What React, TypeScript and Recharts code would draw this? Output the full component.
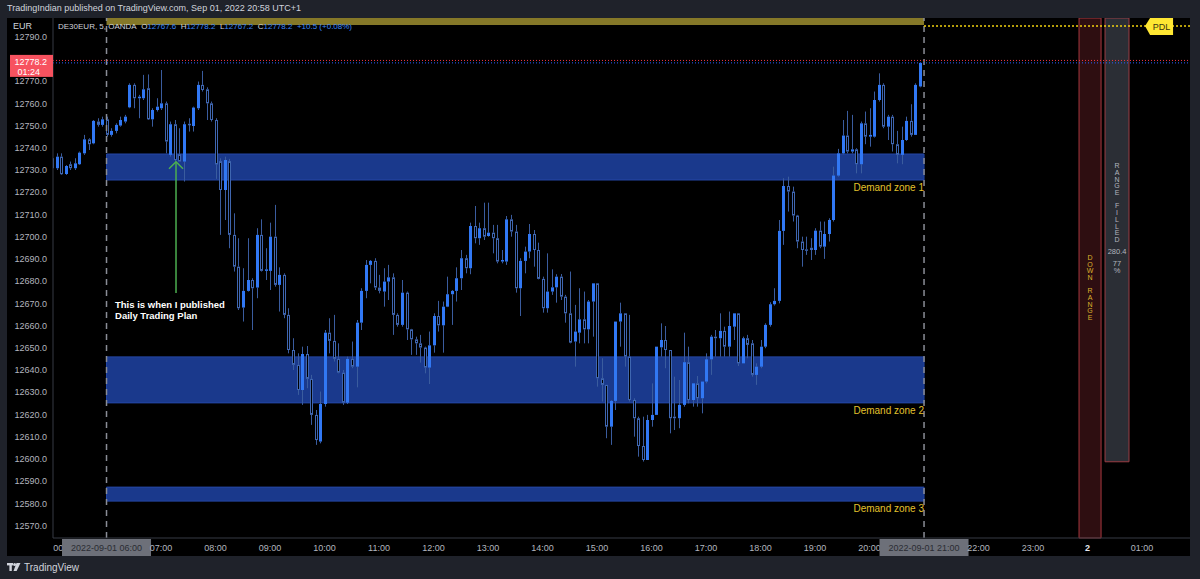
import React from "react";
import {
  ComposedChart,
  Bar,
  XAxis,
  YAxis,
  ReferenceArea,
  ReferenceLine,
  ReferenceDot,
} from "recharts";

const FONT = '"Liberation Sans", Arial, sans-serif';

// 5 minute candles, DE30EUR, 2022-09-01 05:00 -> 20:55
const START_HOUR = 5;
const STEP_MIN = 5;

const OPEN = [
  12735.3, 12730.8, 12736.0, 12728.2, 12732.6, 12730.8, 12732.6, 12737.5, 12743.8, 12742.0, 12751.8, 12750.3,
  12752.8, 12745.8, 12747.6, 12750.0, 12751.8, 12758.2, 12768.3, 12762.3, 12762.3, 12766.8, 12752.8, 12757.0,
  12757.8, 12760.0, 12736.8, 12750.6, 12737.1, 12733.8, 12750.8, 12749.8, 12757.8, 12768.3, 12766.3, 12760.0,
  12752.5, 12734.0, 12721.0, 12734.0, 12700.8, 12686.5, 12668.1, 12675.6, 12680.5, 12677.1, 12700.8, 12684.6,
  12684.6, 12700.0, 12678.3, 12682.8, 12664.8, 12649.0, 12642.3, 12631.0, 12647.2, 12636.0, 12619.8, 12607.8,
  12624.7, 12656.8, 12653.1, 12645.0, 12638.8, 12625.3, 12645.0, 12641.5, 12661.3, 12675.6, 12687.3, 12689.1,
  12677.1, 12675.3, 12679.8, 12681.7, 12664.8, 12660.3, 12674.8, 12658.3, 12653.8, 12652.0, 12650.1, 12641.1,
  12651.1, 12664.3, 12660.1, 12668.5, 12674.1, 12675.6, 12681.3, 12690.3, 12685.8, 12704.8, 12699.3, 12703.8,
  12700.3, 12701.8, 12699.3, 12688.8, 12688.8, 12707.8, 12702.3, 12676.8, 12689.1, 12693.3, 12701.2, 12694.0,
  12681.0, 12667.8, 12675.3, 12677.2, 12682.0, 12673.0, 12665.5, 12652.8, 12656.8, 12662.8, 12658.3, 12670.8,
  12679.0, 12636.3, 12633.3, 12614.5, 12626.1, 12661.8, 12665.5, 12646.0, 12626.5, 12618.3, 12605.8, 12599.5,
  12617.5, 12619.8, 12650.2, 12653.5, 12649.0, 12619.0, 12618.3, 12624.3, 12643.5, 12626.5, 12634.0, 12627.3,
  12634.8, 12644.8, 12655.0, 12654.3, 12657.6, 12650.5, 12659.5, 12665.5, 12643.0, 12654.3, 12652.0, 12637.8,
  12641.5, 12650.5, 12660.3, 12669.6, 12671.1, 12702.6, 12722.8, 12720.3, 12709.5, 12697.8, 12694.3, 12695.0,
  12694.0, 12702.7, 12695.5, 12701.2, 12707.5, 12727.5, 12737.5, 12745.5, 12738.3, 12739.3, 12732.6, 12751.0,
  12745.0, 12745.0, 12761.5, 12768.3, 12749.5, 12754.0, 12741.6, 12736.8, 12743.5, 12752.1, 12745.8, 12767.6,
];

const HIGH = [
  12736.8, 12737.5, 12737.5, 12732.2, 12733.8, 12735.3, 12738.3, 12745.8, 12744.3, 12752.5, 12753.3, 12754.0,
  12754.0, 12748.8, 12751.0, 12754.0, 12754.8, 12769.0, 12769.0, 12763.8, 12772.8, 12773.0, 12757.8, 12762.3,
  12775.0, 12760.8, 12751.8, 12752.5, 12748.8, 12751.8, 12753.3, 12758.5, 12769.8, 12774.6, 12767.2, 12760.8,
  12753.3, 12735.3, 12736.0, 12735.0, 12710.5, 12699.3, 12685.8, 12699.3, 12681.3, 12703.8, 12707.8, 12694.8,
  12706.3, 12714.3, 12686.2, 12683.5, 12667.8, 12654.3, 12647.5, 12650.5, 12650.8, 12637.8, 12622.0, 12630.3,
  12658.0, 12663.3, 12664.8, 12652.0, 12640.0, 12646.0, 12652.8, 12662.5, 12676.8, 12689.5, 12689.5, 12690.3,
  12682.8, 12685.8, 12687.3, 12683.5, 12665.5, 12680.5, 12675.3, 12658.5, 12655.0, 12655.8, 12650.5, 12657.3,
  12665.5, 12671.1, 12670.8, 12682.0, 12676.0, 12686.2, 12694.0, 12691.8, 12706.3, 12713.8, 12706.3, 12715.3,
  12715.3, 12705.3, 12705.3, 12694.0, 12709.3, 12709.8, 12705.3, 12690.3, 12695.5, 12705.7, 12703.0, 12697.3,
  12682.0, 12692.5, 12685.3, 12683.1, 12683.2, 12673.8, 12684.3, 12669.3, 12676.8, 12675.3, 12671.5, 12679.0,
  12679.0, 12645.3, 12633.3, 12626.5, 12661.8, 12670.3, 12665.5, 12664.8, 12627.3, 12619.0, 12619.0, 12619.8,
  12634.0, 12650.5, 12661.0, 12659.8, 12649.0, 12637.0, 12635.5, 12656.8, 12650.5, 12634.0, 12637.3, 12634.8,
  12647.5, 12655.8, 12658.0, 12665.5, 12659.5, 12666.3, 12665.5, 12665.5, 12655.0, 12655.8, 12653.5, 12643.0,
  12653.5, 12661.0, 12670.5, 12676.8, 12707.5, 12726.3, 12727.0, 12722.5, 12709.8, 12700.0, 12700.0, 12699.3,
  12703.8, 12706.8, 12706.8, 12708.3, 12731.5, 12739.5, 12752.5, 12756.6, 12754.8, 12739.8, 12751.8, 12756.3,
  12757.8, 12765.3, 12773.5, 12769.0, 12754.8, 12754.8, 12747.6, 12749.5, 12754.0, 12759.6, 12769.0, 12778.2,
];

const LOW = [
  12728.1, 12730.0, 12727.8, 12727.8, 12730.0, 12730.0, 12732.3, 12736.8, 12739.0, 12741.6, 12749.5, 12749.5,
  12745.0, 12745.0, 12746.5, 12749.5, 12751.0, 12757.8, 12757.8, 12753.3, 12761.5, 12752.5, 12749.5, 12756.3,
  12757.0, 12737.5, 12736.0, 12733.8, 12733.8, 12724.8, 12747.3, 12747.3, 12757.0, 12765.3, 12752.5, 12751.8,
  12726.0, 12700.8, 12707.5, 12694.8, 12684.3, 12667.0, 12661.8, 12675.3, 12658.0, 12672.3, 12684.3, 12680.5,
  12676.0, 12677.5, 12666.3, 12663.3, 12647.5, 12640.0, 12628.8, 12624.3, 12631.8, 12615.3, 12606.3, 12607.0,
  12623.5, 12647.5, 12643.8, 12638.5, 12624.3, 12624.7, 12640.8, 12632.2, 12658.0, 12672.3, 12679.0, 12676.0,
  12674.5, 12668.5, 12671.5, 12655.8, 12659.5, 12659.5, 12653.5, 12646.8, 12646.8, 12643.3, 12638.5, 12633.7,
  12647.8, 12657.3, 12647.8, 12668.3, 12660.3, 12670.8, 12676.0, 12683.5, 12683.1, 12697.0, 12696.3, 12698.5,
  12700.0, 12692.5, 12688.0, 12688.0, 12687.3, 12700.0, 12674.8, 12664.3, 12683.5, 12690.3, 12686.5, 12680.8,
  12665.8, 12665.8, 12673.8, 12670.3, 12671.5, 12661.3, 12652.0, 12641.5, 12652.0, 12652.0, 12652.0, 12655.0,
  12632.5, 12625.8, 12609.3, 12606.3, 12622.0, 12650.5, 12641.5, 12625.8, 12610.0, 12601.0, 12598.8, 12599.5,
  12614.5, 12619.8, 12646.0, 12640.8, 12611.5, 12613.0, 12613.8, 12623.5, 12625.0, 12623.5, 12623.5, 12620.5,
  12634.0, 12637.8, 12646.0, 12646.0, 12646.0, 12646.0, 12653.5, 12641.8, 12643.0, 12645.3, 12637.0, 12633.3,
  12640.8, 12649.8, 12659.5, 12669.0, 12670.0, 12696.3, 12711.3, 12706.8, 12694.8, 12686.5, 12691.8, 12689.5,
  12691.8, 12694.8, 12690.0, 12697.8, 12706.8, 12727.0, 12737.1, 12737.5, 12737.5, 12728.5, 12728.5, 12741.6,
  12740.5, 12744.6, 12760.8, 12748.8, 12743.5, 12738.3, 12733.0, 12732.6, 12743.1, 12745.0, 12745.8, 12767.2,
];

const CLOSE = [
  12730.8, 12736.0, 12728.1, 12731.8, 12730.8, 12733.0, 12737.8, 12743.8, 12741.6, 12752.1, 12750.3, 12752.8,
  12745.8, 12747.6, 12750.3, 12752.5, 12754.0, 12768.3, 12762.3, 12763.0, 12766.3, 12752.8, 12757.0, 12758.5,
  12760.0, 12742.8, 12750.6, 12734.5, 12733.8, 12750.6, 12750.3, 12758.1, 12768.3, 12766.0, 12760.0, 12752.5,
  12732.5, 12721.0, 12734.5, 12700.8, 12686.5, 12667.8, 12675.6, 12680.5, 12676.8, 12700.8, 12684.6, 12685.3,
  12700.0, 12678.3, 12682.8, 12664.8, 12649.0, 12642.3, 12631.0, 12647.2, 12636.0, 12619.8, 12608.5, 12624.7,
  12656.8, 12653.1, 12645.0, 12638.8, 12625.3, 12645.0, 12641.5, 12661.3, 12675.6, 12687.3, 12689.1, 12677.1,
  12675.6, 12679.8, 12681.7, 12664.8, 12660.3, 12674.8, 12658.3, 12653.8, 12652.0, 12650.1, 12641.1, 12651.1,
  12664.3, 12660.1, 12668.5, 12674.1, 12675.6, 12681.3, 12690.3, 12685.8, 12704.8, 12699.3, 12703.8, 12700.0,
  12701.8, 12699.3, 12688.8, 12689.5, 12707.8, 12702.3, 12676.8, 12689.1, 12693.3, 12701.2, 12694.0, 12681.0,
  12667.8, 12675.3, 12677.2, 12682.0, 12673.0, 12665.5, 12652.3, 12657.3, 12662.8, 12658.3, 12670.8, 12679.0,
  12636.3, 12633.3, 12614.5, 12626.1, 12661.8, 12665.5, 12646.0, 12626.5, 12618.3, 12605.8, 12599.5, 12617.5,
  12619.8, 12650.5, 12653.5, 12649.0, 12618.3, 12618.3, 12624.3, 12643.5, 12626.5, 12634.0, 12627.3, 12634.8,
  12644.8, 12655.0, 12654.3, 12657.6, 12650.5, 12659.8, 12665.5, 12643.0, 12654.3, 12651.3, 12637.8, 12641.5,
  12650.5, 12660.3, 12669.6, 12671.1, 12702.6, 12722.8, 12720.3, 12709.5, 12697.8, 12694.0, 12694.0, 12694.0,
  12702.7, 12695.5, 12701.2, 12707.5, 12727.5, 12737.5, 12745.5, 12738.3, 12739.3, 12732.6, 12751.0, 12745.0,
  12745.8, 12761.5, 12768.3, 12749.5, 12754.0, 12741.6, 12736.8, 12743.5, 12752.1, 12745.8, 12768.3, 12778.2,
];

const Y_TICKS = [
  12570, 12580, 12590, 12600, 12610, 12620, 12630, 12640, 12650, 12660, 12670,
  12680, 12690, 12700, 12710, 12720, 12730, 12740, 12750, 12760, 12770, 12780, 12790,
];
const X_TICKS = [5, 6, 7, 8, 9, 10, 11, 12, 13, 14, 15, 16, 17, 18, 19, 20, 21, 22, 23, 24, 25];
const DATE_TICKS = [6, 21];

// zones: [low, high]
const DEMAND_ZONES = [
  { name: "Demand zone 1", low: 12725.5, high: 12737.2 },
  { name: "Demand zone 2", low: 12625.2, high: 12645.9 },
  { name: "Demand zone 3", low: 12581.0, high: 12587.3 },
];

const LAST_PRICE = 12778.2;
const ASK_PRICE = 12779.3;
const PDL_PRICE = 12794.8;
const DAY_LOW = 12598.7;
const RANGE_SIZE = "280.4";
const RANGE_PCT = "77";

const X_MIN = 5.018;
const X_MAX = 25.88;
const Y_MIN = 12564.4;
const Y_MAX = 12798.4;

const BULL = "#3178f4";
const BEAR = "#3f66b0";
const WICK = "#3a5c9e";
const ZONE_TEXT = "#e3c12c";

const data = OPEN.map((o, i) => ({
  t: START_HOUR + (i * STEP_MIN) / 60,
  range: [LOW[i], HIGH[i]],
  open: o,
  high: HIGH[i],
  low: LOW[i],
  close: CLOSE[i],
}));

function Candle(props: any) {
  const { x, y, width, height, payload } = props;
  if (x == null || !payload) return null;
  const top = Math.min(y, y + height);
  const h = Math.abs(height);
  const { open, close, high, low } = payload;
  const span = high - low || 1;
  const py = (v: number) => top + ((high - v) / span) * h;
  const px = Math.round(x + width / 2);
  const up = close >= open;
  const bTop = py(Math.max(open, close));
  const bBot = Math.max(py(Math.min(open, close)), bTop + 1);
  return (
    <g>
      <line x1={px + 0.5} x2={px + 0.5} y1={top} y2={bTop} stroke={WICK} strokeWidth={1} />
      <line x1={px + 0.5} x2={px + 0.5} y1={bBot} y2={top + h} stroke={WICK} strokeWidth={1} />
      {up ? (
        <rect x={px - 1} y={bTop} width={3} height={bBot - bTop} fill={BULL} />
      ) : (
        <rect x={px - 0.5} y={bTop + 0.5} width={2} height={Math.max(bBot - bTop - 1, 0.5)} fill="#000" stroke={BEAR} strokeWidth={1} />
      )}
    </g>
  );
}

const pad = (n: number) => String(n).padStart(2, "0");

function XTick({ x, y, payload }: any) {
  const v = payload.value;
  if (DATE_TICKS.includes(v)) {
    return (
      <g>
        <rect x={x - 44.5} y={y + 1} width={89} height={17} fill="#6d7079" />
        <text x={x} y={y + 12.5} textAnchor="middle" fontSize={9} fill="#2a2c33" fontFamily={FONT}>
          {`2022-09-01 ${pad(v)}:00`}
        </text>
      </g>
    );
  }
  const label = v === 24 ? "2" : `${pad(v % 24)}:00`;
  return (
    <text
      x={x}
      y={y + 12.5}
      textAnchor="middle"
      fontSize={9}
      fontWeight={v === 24 ? 700 : 400}
      fill={v === 24 ? "#e6e8ee" : "#b2b5be"}
      fontFamily={FONT}
    >
      {label}
    </text>
  );
}

function YTick({ x, y, payload }: any) {
  // the last-price tag sits over the scale, the label beneath it is hidden
  if (Math.abs(payload.value - LAST_PRICE) < 4) return null;
  return (
    <text x={x} y={y} dy={3.2} textAnchor="end" fontSize={9} fill="#b2b5be" fontFamily={FONT}>
      {payload.value.toFixed(1)}
    </text>
  );
}

function StackText({ cx, cy, text, color }: any) {
  return (
    <g>
      {text.split("").map((ch: string, i: number) => (
        <text key={i} x={cx} y={cy + i * 6.7} dy={2.5} textAnchor="middle" fontSize={7} fill={color} fontFamily={FONT}>
          {ch}
        </text>
      ))}
    </g>
  );
}

export default function App() {
  return (
    <div
      style={{
        position: "absolute",
        left: 0,
        top: 0,
        width: 1200,
        height: 579,
        background: "#1f222a",
        overflow: "hidden",
        fontFamily: FONT,
      }}
    >
      <div style={{ position: "absolute", left: 7, top: 3, fontSize: 9, color: "#d1d4dc", whiteSpace: "nowrap" }}>
        TradingIndian published on TradingView.com, Sep 01, 2022 20:58 UTC+1
      </div>

      <div style={{ position: "absolute", left: 7, top: 18, width: 1183, height: 538, background: "#000" }}>
        <ComposedChart width={1183} height={538} data={data} margin={{ top: 0, right: 0, bottom: 0, left: 0 }}>
          <XAxis
            dataKey="t"
            type="number"
            domain={[X_MIN, X_MAX]}
            allowDataOverflow
            ticks={X_TICKS}
            interval={0}
            height={18}
            tickSize={0}
            tickMargin={0}
            tickLine={false}
            axisLine={{ stroke: "#363a45" }}
            tick={<XTick />}
          />
          <YAxis
            type="number"
            domain={[Y_MIN, Y_MAX]}
            allowDataOverflow
            ticks={Y_TICKS}
            interval={0}
            width={46}
            tickSize={0}
            tickMargin={6}
            tickLine={false}
            axisLine={{ stroke: "#363a45" }}
            tick={<YTick />}
          />

          <ReferenceArea x1={6} x2={21} y1={12795.3} y2={Y_MAX} fill="#857828" fillOpacity={1} ifOverflow="hidden" />
          {DEMAND_ZONES.map((z) => (
            <ReferenceArea
              key={z.name}
              x1={6}
              x2={21}
              y1={z.low}
              y2={z.high}
              fill="#1a398c"
              fillOpacity={1}
              stroke="#2447a6"
              strokeWidth={1}
            />
          ))}
          <ReferenceArea x1={23.844} x2={24.248} y1={Y_MIN} y2={Y_MAX} fill="#2e0e11" fillOpacity={1} stroke="#a8383f" />
          <ReferenceArea x1={24.321} x2={24.761} y1={DAY_LOW} y2={Y_MAX} fill="#2b2e35" fillOpacity={1} stroke="#9a3d44" />

          <Bar dataKey="range" barSize={3} shape={<Candle />} isAnimationActive={false} />

          <ReferenceLine x={6} stroke="#8a8d96" strokeWidth={1.5} strokeDasharray="6 5" />
          <ReferenceLine x={21} stroke="#8a8d96" strokeWidth={1.5} strokeDasharray="6 5" />
          <ReferenceLine y={ASK_PRICE} stroke="#f23645" strokeWidth={1} strokeDasharray="1 2" />
          <ReferenceLine y={LAST_PRICE} stroke="#2962ff" strokeWidth={1} strokeDasharray="1 2" />
          <ReferenceLine
            segment={[{ x: 21, y: PDL_PRICE }, { x: X_MAX, y: PDL_PRICE }]}
            stroke="#f5d40f"
            strokeWidth={1.5}
            strokeDasharray="2 2"
          />

          {/* arrow: published plan */}
          <ReferenceLine
            segment={[{ x: 7.275, y: 12674.7 }, { x: 7.275, y: 12733.7 }]}
            stroke="#4caf50"
            strokeWidth={1.5}
          />
          <ReferenceDot
            x={7.275}
            y={12733.7}
            r={0}
            ifOverflow="visible"
            shape={(p: any) => (
              <polyline
                points={`${p.cx - 7},${p.cy + 7} ${p.cx},${p.cy} ${p.cx + 7},${p.cy + 7}`}
                fill="none"
                stroke="#4caf50"
                strokeWidth={1.5}
              />
            )}
          />
          <ReferenceDot
            x={6.156}
            y={12669.3}
            r={0}
            ifOverflow="visible"
            shape={(p: any) => (
              <g fontFamily={FONT} fontSize={9.5} fontWeight={700} fill="#ffffff">
                <text x={p.cx} y={p.cy} dy={3.5}>This is when I published</text>
                <text x={p.cx} y={p.cy} dy={14}>Daily Trading Plan</text>
              </g>
            )}
          />

          {DEMAND_ZONES.map((z) => (
            <ReferenceDot
              key={z.name + "-lbl"}
              x={21}
              y={z.low}
              r={0}
              ifOverflow="visible"
              shape={(p: any) => (
                <text x={p.cx} y={p.cy} dy={11} textAnchor="end" fontSize={10} fill={ZONE_TEXT} fontFamily={FONT}>
                  {z.name}
                </text>
              )}
            />
          ))}

          <ReferenceDot x={24.046} y={12690.7} r={0} ifOverflow="visible"
            shape={(p: any) => <StackText cx={p.cx} cy={p.cy} text="DOWN RANGE" color="#dcb22c" />} />
          <ReferenceDot x={24.541} y={12731.9} r={0} ifOverflow="visible"
            shape={(p: any) => <StackText cx={p.cx} cy={p.cy} text="RANGE FILLED" color="#b2b5be" />} />
          <ReferenceDot x={24.541} y={12693.6} r={0} ifOverflow="visible"
            shape={(p: any) => (
              <g fontFamily={FONT} fontSize={7.5} fill="#b2b5be" textAnchor="middle">
                <text x={p.cx} y={p.cy} dy={2.7}>{RANGE_SIZE}</text>
                <text x={p.cx} y={p.cy} dy={15}>{RANGE_PCT}</text>
                <text x={p.cx} y={p.cy} dy={22.4}>%</text>
              </g>
            )} />

          {/* PDL tag */}
          <ReferenceDot
            x={25.055}
            y={PDL_PRICE}
            r={0}
            ifOverflow="visible"
            shape={(p: any) => (
              <g>
                <polygon
                  points={`${p.cx},${p.cy} ${p.cx + 5},${p.cy - 8} ${p.cx + 28},${p.cy - 8} ${p.cx + 28},${p.cy + 9} ${p.cx + 5},${p.cy + 9}`}
                  fill="#ffe733"
                />
                <text x={p.cx + 16.5} y={p.cy} dy={3.5} textAnchor="middle" fontSize={9} fill="#3a3510" fontFamily={FONT}>
                  PDL
                </text>
              </g>
            )}
          />

          {/* last price tag on the scale */}
          <ReferenceDot
            x={X_MIN}
            y={LAST_PRICE}
            r={0}
            ifOverflow="visible"
            shape={(p: any) => (
              <g fontFamily={FONT} fontSize={9} fill="#ffffff">
                <rect x={p.cx - 43} y={p.cy - 8} width={43} height={22} fill="#f7525f" />
                <text x={p.cx - 6} y={p.cy} dy={2} textAnchor="end">{LAST_PRICE.toFixed(1)}</text>
                <text x={p.cx - 13} y={p.cy} dy={12} textAnchor="end">01:24</text>
              </g>
            )}
          />
        </ComposedChart>
      </div>

      {/* currency box over the scale top */}
      <div style={{ position: "absolute", left: 7, top: 18, width: 45, height: 16, background: "#000", color: "#d1d4dc", fontSize: 9 }}>
        <span style={{ position: "absolute", left: 6, top: 3 }}>EUR</span>
      </div>
      {/* corner under the price scale */}
      <div style={{ position: "absolute", left: 7, top: 539, width: 46, height: 17, background: "#000" }} />

      {/* legend */}
      <div style={{ position: "absolute", left: 58, top: 22, fontSize: 8, color: "#d1d4dc", whiteSpace: "nowrap" }}>
        DE30EUR, 5, OANDA&nbsp;&nbsp;O<span style={{ color: "#3a86f7" }}>12767.6</span>
        &nbsp;&nbsp;H<span style={{ color: "#3a86f7" }}>12778.2</span>
        &nbsp;&nbsp;L<span style={{ color: "#3a86f7" }}>12767.2</span>
        &nbsp;&nbsp;C<span style={{ color: "#3a86f7" }}>12778.2</span>
        &nbsp;&nbsp;<span style={{ color: "#3a86f7" }}>+10.5 (+0.08%)</span>
      </div>

      {/* footer logo */}
      <div style={{ position: "absolute", left: 7, top: 562, display: "flex", alignItems: "center", gap: 3 }}>
        <svg width={14} height={9} viewBox="0 0 14 9">
          <rect x={0} y={0} width={6} height={2.4} fill="#d1d4dc" />
          <rect x={2.4} y={0} width={2.4} height={8} fill="#d1d4dc" />
          <circle cx={7.6} cy={1.6} r={1.5} fill="#d1d4dc" />
          <polygon points="9.5,0 13.5,0 9.6,8 6.5,8" fill="#d1d4dc" />
        </svg>
        <span style={{ fontSize: 10, color: "#d1d4dc" }}>TradingView</span>
      </div>
    </div>
  );
}
